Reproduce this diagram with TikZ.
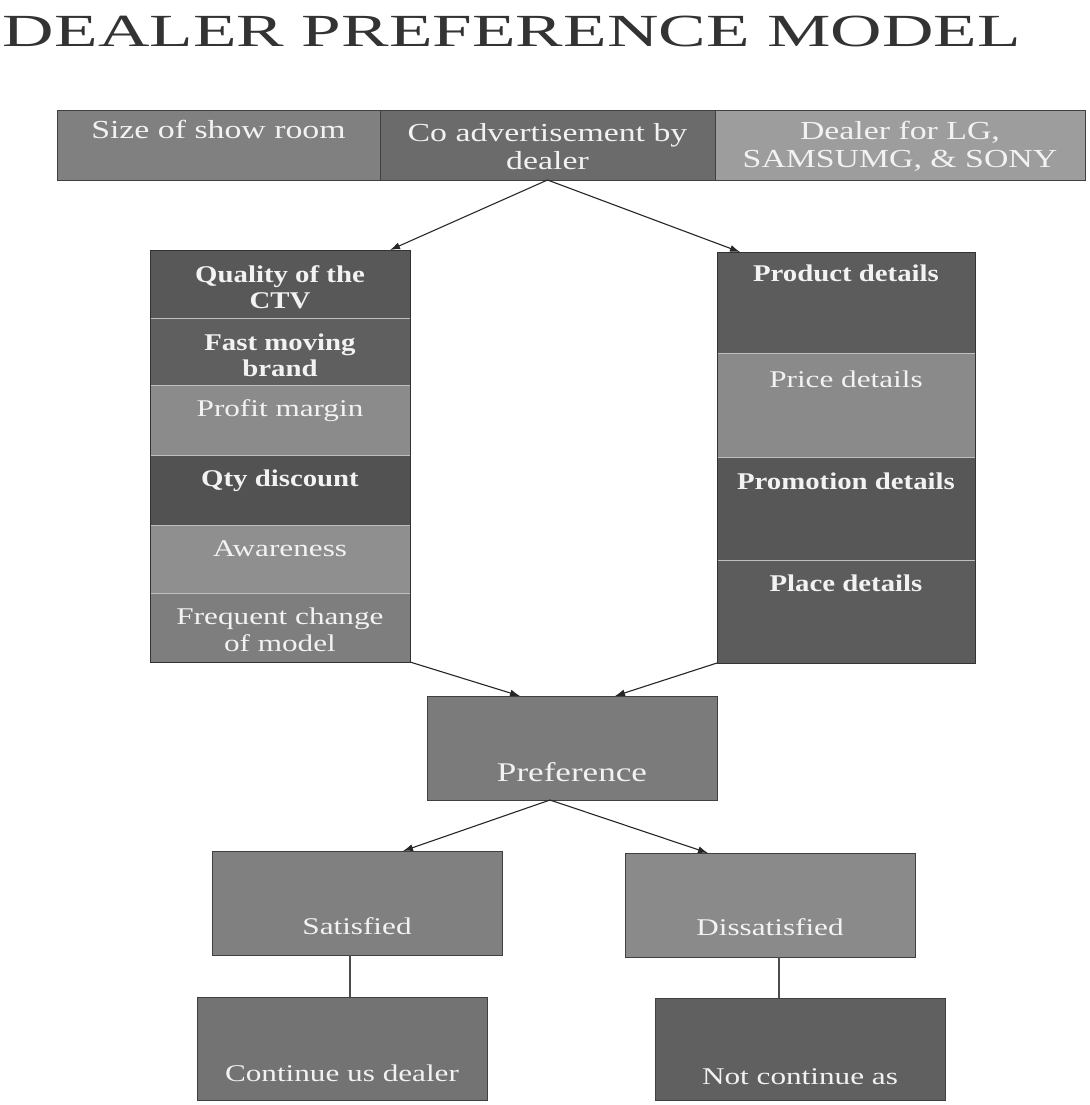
\documentclass[tikz,border=0pt]{standalone}
\usepackage{fontspec}
\setmainfont{Liberation Serif}
\newfontfamily\regf{Liberation Serif}[FakeStretch=1.3]
\newfontfamily\boldf{Liberation Serif}[FakeStretch=1.2]
\newfontfamily\titlef{Liberation Serif}[FakeStretch=1.55]
\usetikzlibrary{arrows.meta}
\definecolor{cS1}{HTML}{808080}
\definecolor{cS2}{HTML}{6B6B6B}
\definecolor{cS3}{HTML}{9D9D9D}
\definecolor{cQ1}{HTML}{585858}
\definecolor{cQ2}{HTML}{5F5F5F}
\definecolor{cQ3}{HTML}{8B8B8B}
\definecolor{cQ4}{HTML}{525252}
\definecolor{cQ5}{HTML}{8F8F8F}
\definecolor{cQ6}{HTML}{7E7E7E}
\definecolor{cR1}{HTML}{5C5C5C}
\definecolor{cR2}{HTML}{8A8A8A}
\definecolor{cR3}{HTML}{575757}
\definecolor{cR4}{HTML}{5C5C5C}
\definecolor{cPref}{HTML}{7B7B7B}
\definecolor{cSat}{HTML}{808080}
\definecolor{cDis}{HTML}{8A8A8A}
\definecolor{cCont}{HTML}{737373}
\definecolor{cNot}{HTML}{606060}
\definecolor{txtc}{HTML}{F2F2F2}
\begin{document}
\begin{tikzpicture}[x=1pt,y=-1pt,
  box/.style={rectangle, draw=black!75, line width=0.9pt, inner sep=0pt, outer sep=0pt},
  cell/.style={rectangle, draw=white!75!black, line width=0.8pt, inner sep=0pt, outer sep=0pt},
  txt/.style={inner sep=0pt, align=center, text=txtc, text height=0.68em, text depth=0.2em},
  txtm/.style={inner sep=0pt, align=center, text=txtc},
  reg/.style={txt, font=\regf\fontsize{24}{27}\selectfont},
  regm/.style={txtm, font=\regf\fontsize{24}{27}\selectfont},
  regtop/.style={txt, font=\regf\fontsize{26}{28}\selectfont},
  regtopm/.style={txtm, font=\regf\fontsize{26}{28}\selectfont},
  bld/.style={txt, font=\boldf\bfseries\fontsize{24}{26}\selectfont},
  bldm/.style={txtm, font=\boldf\bfseries\fontsize{24}{26}\selectfont},
  arr/.style={draw=black!85, line width=1.1pt, -{Latex[length=10pt,width=7pt]}},
  lin/.style={draw=black!70, line width=1.1pt}]
\fill[white] (0,0) rectangle (1089,1105);
\useasboundingbox (0,0) rectangle (1089,1105);

% title
\node[inner sep=0pt, text=black!80, font=\titlef\fontsize{46}{50}\selectfont] (title) at (512,31) {DEALER PREFERENCE MODEL};

% top row
\node[box, fill=cS1, minimum width=323pt, minimum height=70pt] (s1) at (218.5,145) {};
\node[box, fill=cS2, minimum width=335pt, minimum height=70pt] (s2) at (547.5,145) {};
\node[box, fill=cS3, minimum width=370pt, minimum height=70pt] (s3) at (900,145) {};
\node[regtop] (ts1) at (218.5,136) {Size of show room};
\node[regtopm] (ts2) at (547.5,147) {Co advertisement by\\dealer};
\node[regtopm] (ts3) at (900,146) {Dealer for LG,\\SAMSUMG, \& SONY};

% left column
\node[cell, fill=cQ1, minimum width=260pt, minimum height=68pt] (q1) at (280,284) {};
\node[cell, fill=cQ2, minimum width=260pt, minimum height=67pt] (q2) at (280,351.5) {};
\node[cell, fill=cQ3, minimum width=260pt, minimum height=70pt] (q3) at (280,420) {};
\node[cell, fill=cQ4, minimum width=260pt, minimum height=70pt] (q4) at (280,490) {};
\node[cell, fill=cQ5, minimum width=260pt, minimum height=68pt] (q5) at (280,559) {};
\node[cell, fill=cQ6, minimum width=260pt, minimum height=69pt] (q6) at (280,627.5) {};
\draw[black!80, line width=1pt] (q1.north west) rectangle (q6.south east);
\node[bldm] (tq1) at (280,287) {Quality of the\\CTV};
\node[bldm] (tq2) at (280,355) {Fast moving\\brand};
\node[reg] (tq3) at (280,414) {Profit margin};
\node[bld] (tq4) at (280,484) {Qty discount};
\node[reg] (tq5) at (280,554) {Awareness};
\node[regm] (tq6) at (280,630) {Frequent change\\of model};

% right column
\node[cell, fill=cR1, minimum width=258pt, minimum height=101pt] (r1) at (846,302.5) {};
\node[cell, fill=cR2, minimum width=258pt, minimum height=104pt] (r2) at (846,405) {};
\node[cell, fill=cR3, minimum width=258pt, minimum height=103pt] (r3) at (846,508.5) {};
\node[cell, fill=cR4, minimum width=258pt, minimum height=103pt] (r4) at (846,611.5) {};
\draw[black!80, line width=1pt] (r1.north west) rectangle (r4.south east);
\node[bld] (tr1) at (846,279) {Product details};
\node[reg] (tr2) at (846,385) {Price details};
\node[bld] (tr3) at (846,487) {Promotion details};
\node[bld] (tr4) at (846,589) {Place details};

% lower boxes
\node[box, fill=cPref, minimum width=290pt, minimum height=104pt] (pref) at (572,748) {};
\node[txt, font=\regf\fontsize{27}{30}\selectfont] (tpref) at (572,779) {Preference};
\node[box, fill=cSat, minimum width=290pt, minimum height=104pt] (sat) at (357,903) {};
\node[reg] (tsat) at (357,932) {Satisfied};
\node[box, fill=cDis, minimum width=290pt, minimum height=104pt] (dis) at (770,905) {};
\node[reg] (tdis) at (770,933) {Dissatisfied};
\node[box, fill=cCont, minimum width=290pt, minimum height=103pt] (cont) at (342,1048.5) {};
\node[reg] (tcont) at (342,1079) {Continue us dealer};
\node[box, fill=cNot, minimum width=290pt, minimum height=102pt] (notc) at (800,1049) {};
\node[reg] (tnot) at (800,1082) {Not continue as};

% connectors
\draw[arr] (s2.south) -- ([xshift=-20pt]q1.north east);
\draw[arr] (s2.south) -- ([xshift=23pt]r1.north west);
\draw[arr] (q6.south east) -- ([xshift=93pt]pref.north west);
\draw[arr] (r4.south west) -- ([xshift=188pt]pref.north west);
\draw[arr] ([xshift=123pt]pref.south west) -- ([xshift=191pt]sat.north west);
\draw[arr] ([xshift=123pt]pref.south west) -- ([xshift=83pt]dis.north west);
\draw[lin] ([xshift=138pt]sat.south west) -- ([xshift=153pt]cont.north west);
\draw[lin] ([xshift=154pt]dis.south west) -- ([xshift=124pt]notc.north west);
\end{tikzpicture}
\end{document}
